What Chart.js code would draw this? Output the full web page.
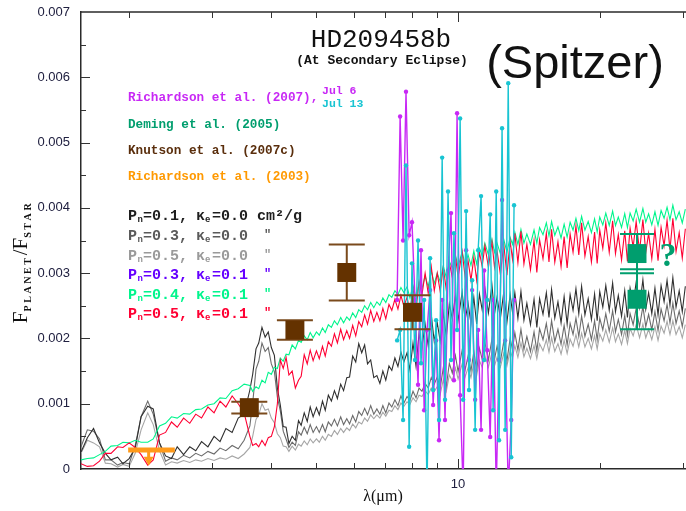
<!DOCTYPE html>
<html>
<head>
<meta charset="utf-8">
<title>HD209458b at secondary eclipse</title>
<script src="https://cdn.jsdelivr.net/npm/chart.js@4.4.1/dist/chart.umd.min.js"></script>
<style>
  html, body { margin: 0; padding: 0; background: #fff; }
  canvas { display: block; }
</style>
</head>
<body>
<canvas id="canvas" width="686" height="511"></canvas>
<script>
// wavelength grid (micron) shared by the model spectra; finer past 3.6 micron where the spectra get noisy
const modelWave = [1.58, 1.63, 1.68, 1.73, 1.78, 1.83, 1.89, 1.94, 2.0, 2.06, 2.12, 2.19, 2.25, 2.32, 2.39, 2.46, 2.53, 2.61, 2.69, 2.77, 2.85, 2.94, 3.03, 3.12, 3.21, 3.31, 3.41, 3.51,
  3.61, 3.66, 3.72, 3.77, 3.83, 3.89, 3.95, 4.01, 4.07, 4.13, 4.19, 4.25, 4.31, 4.37, 4.44, 4.51, 4.58, 4.64, 4.71, 4.78, 4.85, 4.92, 5.0, 5.07, 5.15, 5.22, 5.3, 5.38, 5.46, 5.54, 5.63, 5.71, 5.8, 5.88, 5.97, 6.06, 6.15, 6.24, 6.33, 6.42, 6.52, 6.62, 6.72, 6.82, 6.92, 7.02, 7.13, 7.23, 7.34, 7.45, 7.56, 7.67, 7.79, 7.9,
  8.02, 8.14, 8.26, 8.38, 8.51, 8.64, 8.77, 8.9, 9.03, 9.16, 9.3, 9.44, 9.58, 9.72, 9.87, 10.0, 10.2, 10.35, 10.5, 10.65, 10.8, 10.95, 11.1, 11.25, 11.4, 11.6, 11.8, 11.95, 12.1, 12.3, 12.5, 12.7, 12.9, 13.05, 13.2, 13.4, 13.6, 13.8,
  14.0, 14.25, 14.5, 14.7, 14.9, 15.15, 15.4, 15.6, 15.8, 16.05, 16.3, 16.55, 16.8, 17.05, 17.3, 17.55, 17.8, 18.05, 18.3, 18.6, 18.9, 19.2, 19.5, 19.75, 20.0, 20.3, 20.6, 20.95, 21.3, 21.6, 21.9, 22.25, 22.6, 22.9, 23.2, 23.55, 23.9, 24.3, 24.7, 25.05, 25.4, 25.8, 26.2, 26.6, 27.0, 27.4, 27.8, 28.2, 28.6, 29.05, 29.5, 29.95, 30.4];

// Pn=0.1, ke=0.0
const modelBlack = [0.00026, 0.00048, 0.00062, 0.0004, 0.00024, 0.00014, 0.00018, 0.00008, 0.00016, 0.00032, 0.0008, 0.00096, 0.00092, 0.0004, 0.0002, 0.00016, 0.00034, 0.00022, 0.00034, 0.00028, 0.00042, 0.00034, 0.0005, 0.00042, 0.00062, 0.00056, 0.00078, 0.00084,
  0.00121, 0.00145, 0.00184, 0.00193, 0.00217, 0.00202, 0.0021, 0.00186, 0.00174, 0.00124,
  0.00098, 0.00065, 0.00064, 0.00039, 0.0005, 0.00044, 0.00074, 0.00067, 0.00086, 0.00073,
  0.00095, 0.0008, 0.00094, 0.00083, 0.00104, 0.0009, 0.00113, 0.00104, 0.0012, 0.00108,
  0.0013, 0.0012, 0.0014, 0.00141, 0.00173, 0.00164, 0.00192, 0.00178, 0.0019, 0.00161,
  0.00167, 0.0014, 0.00143, 0.00131, 0.0015, 0.00136, 0.00158, 0.00151, 0.0017, 0.00157,
  0.00179, 0.00164, 0.00178, 0.00152, 0.00193, 0.00157, 0.00207, 0.00186, 0.00222, 0.00189,
  0.00236, 0.00195, 0.00224, 0.00196, 0.00239, 0.00203, 0.00253, 0.0023, 0.00265, 0.00228,
  0.00271, 0.00228, 0.00254, 0.00223, 0.00263, 0.00222, 0.00268, 0.00244, 0.00277, 0.00239,
  0.00282, 0.00238, 0.00263, 0.00231, 0.0027, 0.00225, 0.00267, 0.0024, 0.0027, 0.00231,
  0.00272, 0.00228, 0.00254, 0.00221, 0.0026, 0.00217, 0.00261, 0.00237, 0.0027, 0.00232,
  0.00275, 0.00231, 0.00256, 0.00224, 0.00264, 0.00222, 0.00267, 0.00243, 0.00276, 0.00238,
  0.0028, 0.00236, 0.00261, 0.00229, 0.00268, 0.00227, 0.00272, 0.00248, 0.00281, 0.00243,
  0.00285, 0.00241, 0.00266, 0.00234, 0.00273, 0.00232, 0.00277, 0.00253, 0.00286, 0.00248,
  0.0029, 0.00245, 0.0027, 0.00238, 0.00277, 0.00236, 0.00281, 0.00256, 0.00289, 0.00251,
  0.00293, 0.00248, 0.00273, 0.00241, 0.0028];
// Pn=0.3, ke=0.0
const modelDarkGray = [0.00034, 0.0006, 0.00058, 0.00046, 0.00014, 0.00014, 0.00006, 0.0001, 0.00008, 0.00036, 0.0008, 0.00104, 0.00084, 0.0004, 0.00012, 0.00017, 0.00014, 0.00021, 0.00017, 0.00024, 0.0002, 0.00027, 0.00023, 0.00032, 0.00028, 0.00036, 0.00031, 0.00044,
  0.00066, 0.00101, 0.00153, 0.00165, 0.00193, 0.0018, 0.00186, 0.00161, 0.00149, 0.0011,
  0.00089, 0.00058, 0.00046, 0.00033, 0.00041, 0.00036, 0.00057, 0.00052, 0.00064, 0.00054,
  0.00068, 0.00056, 0.00065, 0.00056, 0.00068, 0.00057, 0.00072, 0.00066, 0.00076, 0.00066,
  0.0008, 0.00068, 0.00077, 0.00069, 0.00082, 0.00072, 0.00088, 0.00082, 0.00093, 0.00083,
  0.00097, 0.00084, 0.00092, 0.00084, 0.00097, 0.00086, 0.00101, 0.00095, 0.00106, 0.00097,
  0.00112, 0.00101, 0.00111, 0.00105, 0.00119, 0.00109, 0.00124, 0.00119, 0.00131, 0.00124,
  0.0014, 0.0013, 0.00141, 0.00124, 0.00155, 0.00127, 0.00162, 0.00147, 0.00174, 0.00149,
  0.00182, 0.00152, 0.00173, 0.0015, 0.0018, 0.00151, 0.00185, 0.00168, 0.00194, 0.00167,
  0.00199, 0.00168, 0.00188, 0.00165, 0.00195, 0.00166, 0.002, 0.00183, 0.00209, 0.00182,
  0.00214, 0.00183, 0.00203, 0.0018, 0.0021, 0.00181, 0.00215, 0.00198, 0.00223, 0.00196,
  0.00227, 0.00195, 0.00214, 0.00191, 0.0022, 0.0019, 0.00223, 0.00206, 0.00231, 0.00203,
  0.00234, 0.00203, 0.00222, 0.00198, 0.00227, 0.00198, 0.00231, 0.00213, 0.00238, 0.00211,
  0.00242, 0.0021, 0.00229, 0.00206, 0.00235, 0.00205, 0.00238, 0.00221, 0.00246, 0.00218,
  0.00249, 0.00218, 0.00237, 0.00213, 0.00241, 0.00212, 0.00245, 0.00227, 0.00252, 0.00224,
  0.00254, 0.00223, 0.00242, 0.00218, 0.00246];
// Pn=0.5, ke=0.0
const modelLightGray = [0.00024, 0.00044, 0.0004, 0.00034, 0.00009, 0.00008, 0.00003, 0.00007, 0.00004, 0.00024, 0.0006, 0.00086, 0.00068, 0.00028, 0.00006, 0.00011, 0.00009, 0.00013, 0.0001, 0.00014, 0.00012, 0.00016, 0.00013, 0.00017, 0.00015, 0.0002, 0.00016, 0.00023,
  0.00033, 0.0005, 0.00076, 0.00083, 0.001, 0.0009, 0.00092, 0.00078, 0.00071, 0.00054,
  0.00048, 0.00035, 0.00034, 0.00027, 0.00035, 0.00029, 0.00038, 0.00035, 0.00043, 0.00037,
  0.00046, 0.0004, 0.00046, 0.00041, 0.0005, 0.00044, 0.00053, 0.0005, 0.00059, 0.00053,
  0.00062, 0.00056, 0.00063, 0.00059, 0.00069, 0.00063, 0.00072, 0.00069, 0.00078, 0.00073,
  0.00083, 0.00077, 0.00083, 0.00078, 0.00087, 0.00081, 0.0009, 0.00088, 0.00097, 0.00091,
  0.00101, 0.00096, 0.00103, 0.00099, 0.00109, 0.00103, 0.00113, 0.00111, 0.0012, 0.00114,
  0.00124, 0.00119, 0.00126, 0.00114, 0.00137, 0.00119, 0.00144, 0.00135, 0.00155, 0.00138,
  0.00161, 0.00141, 0.00155, 0.0014, 0.00162, 0.00143, 0.00166, 0.00156, 0.00174, 0.00156,
  0.00178, 0.00158, 0.00171, 0.00156, 0.00177, 0.00158, 0.00181, 0.00171, 0.00189, 0.00171,
  0.00193, 0.00172, 0.00185, 0.00169, 0.00189, 0.00169, 0.00192, 0.00181, 0.00198, 0.00179,
  0.00201, 0.0018, 0.00192, 0.00176, 0.00197, 0.00177, 0.00199, 0.00188, 0.00206, 0.00187,
  0.00208, 0.00187, 0.002, 0.00184, 0.00204, 0.00184, 0.00207, 0.00196, 0.00213, 0.00194,
  0.00216, 0.00195, 0.00207, 0.00191, 0.00212, 0.00192, 0.00215, 0.00204, 0.00221, 0.00201,
  0.00222, 0.00201, 0.00214, 0.00198, 0.00218, 0.00197, 0.00219, 0.00208, 0.00226, 0.00206,
  0.00227, 0.00206, 0.00218, 0.00201, 0.00221];
// Pn=0.4, ke=0.1
const modelGreen = [0.00014, 0.00016, 0.00017, 0.00022, 0.00027, 0.00035, 0.00036, 0.00041, 0.0004, 0.00044, 0.00041, 0.00041, 0.00046, 0.00066, 0.0007, 0.0008, 0.00078, 0.00085, 0.00084, 0.00091, 0.00092, 0.00098, 0.001, 0.00109, 0.00108, 0.0012, 0.00123, 0.0013,
  0.00128, 0.00119, 0.00126, 0.00123, 0.00136, 0.00132, 0.00148, 0.00145, 0.00156, 0.00154,
  0.0017, 0.00165, 0.00176, 0.00175, 0.0019, 0.00184, 0.00197, 0.00194, 0.00204, 0.00198,
  0.00209, 0.00201, 0.0021, 0.00205, 0.00216, 0.00209, 0.00221, 0.00217, 0.00227, 0.00221,
  0.00232, 0.00224, 0.00233, 0.00228, 0.00239, 0.00232, 0.00244, 0.0024, 0.0025, 0.00244,
  0.00255, 0.00247, 0.00256, 0.00251, 0.00262, 0.00255, 0.00267, 0.00263, 0.00273, 0.00267,
  0.00278, 0.0027, 0.00279, 0.00262, 0.00281, 0.00262, 0.00286, 0.00276, 0.00296, 0.00279,
  0.00303, 0.00284, 0.003, 0.00287, 0.00311, 0.00293, 0.00318, 0.00308, 0.00328, 0.0031,
  0.00333, 0.00313, 0.00328, 0.00312, 0.00334, 0.00314, 0.00338, 0.00327, 0.00346, 0.00328,
  0.00352, 0.00332, 0.00346, 0.0033, 0.00352, 0.00332, 0.00355, 0.00344, 0.00363, 0.00344,
  0.00367, 0.00346, 0.0036, 0.00344, 0.00366, 0.00346, 0.0037, 0.00359, 0.00377, 0.00357,
  0.00379, 0.00358, 0.00371, 0.00354, 0.00375, 0.00355, 0.00378, 0.00366, 0.00384, 0.00365,
  0.00387, 0.00366, 0.00379, 0.00362, 0.00383, 0.00363, 0.00386, 0.00374, 0.00392, 0.00373,
  0.00395, 0.00373, 0.00386, 0.0037, 0.00391, 0.0037, 0.00392, 0.0038, 0.00398, 0.00378,
  0.00399, 0.00378, 0.00391, 0.00374, 0.00394, 0.00373, 0.00396, 0.00384, 0.00401, 0.00382,
  0.00404, 0.00382, 0.00394, 0.00377, 0.00398];
// Pn=0.5, ke=0.1
const modelRed = [0.00008, 0.00004, 0.00005, 0.00012, 0.00024, 0.00024, 0.00034, 0.00033, 0.0004, 0.00033, 0.00022, 0.00006, 0.00014, 0.00052, 0.00056, 0.00072, 0.00064, 0.00078, 0.0007, 0.00084, 0.00078, 0.00095, 0.00086, 0.00104, 0.00095, 0.00112, 0.001, 0.00086,
  0.0005, 0.00036, 0.00039, 0.00034, 0.00044, 0.00036, 0.00048, 0.0005, 0.00065, 0.001,
  0.00167, 0.00154, 0.00171, 0.00144, 0.0015, 0.00124, 0.00136, 0.00142, 0.00175, 0.00161,
  0.00182, 0.00166, 0.00181, 0.00169, 0.00188, 0.00173, 0.00195, 0.00188, 0.00207, 0.00193,
  0.00214, 0.00198, 0.00212, 0.002, 0.0022, 0.00204, 0.00226, 0.00218, 0.00236, 0.00222,
  0.00243, 0.00226, 0.0024, 0.00227, 0.00246, 0.0023, 0.00252, 0.00243, 0.0026, 0.00245,
  0.00266, 0.00249, 0.00263, 0.0024, 0.00277, 0.00243, 0.00287, 0.00267, 0.003, 0.00269,
  0.0031, 0.00273, 0.003, 0.00272, 0.00309, 0.00274, 0.00316, 0.00294, 0.00326, 0.00294,
  0.00333, 0.00294, 0.00319, 0.00289, 0.00324, 0.00289, 0.00332, 0.0031, 0.00342, 0.00309,
  0.00348, 0.00309, 0.00334, 0.00298, 0.00345, 0.00297, 0.00349, 0.00321, 0.00361, 0.00316,
  0.00364, 0.00314, 0.00344, 0.00305, 0.0035, 0.00301, 0.00351, 0.00322, 0.00361, 0.00317,
  0.00367, 0.00317, 0.00348, 0.0031, 0.00356, 0.00308, 0.0036, 0.00332, 0.00372, 0.00328,
  0.00377, 0.00326, 0.00356, 0.00317, 0.00363, 0.00315, 0.00366, 0.00338, 0.00377, 0.00332,
  0.0038, 0.0033, 0.00359, 0.0032, 0.00365, 0.00318, 0.00369, 0.0034, 0.00379, 0.00334,
  0.00382, 0.00332, 0.00361, 0.00322, 0.00367, 0.00319, 0.0037, 0.00342, 0.00381, 0.00336,
  0.00384, 0.00333, 0.00362, 0.00323, 0.00368];

// Richardson et al. (2007) IRS spectrum, two visits
const richWave = [7.42, 7.53, 7.64, 7.75, 7.87, 7.98, 8.1, 8.22, 8.34, 8.47, 8.59, 8.72, 8.85, 8.98, 9.11, 9.25, 9.38, 9.52, 9.66, 9.8, 9.95, 10.1, 10.25, 10.4, 10.55, 10.71, 10.87, 11.03, 11.19, 11.36, 11.53, 11.7, 11.87, 12.05, 12.22, 12.4, 12.59, 12.78, 12.97, 13.15];
const jul6 = [0.00259, 0.0054, 0.0035, 0.00578, 0.00358, 0.00378, 0.00259, 0.00129, 0.00335, 0.0009, 0.00213, 0.00274, 0.00098, 0.00197, 0.00044, 0.00259, 0.00075, 0.00304, 0.00392, 0.00136, 0.00545, 0.00113, -0.00032, 0.00335, 0.00167, 0.00274, 0.00106, 0.00213, 0.0006, 0.00304, 0.00182, 0.00049, 0.00259, -0.00032, 0.00167, 0.00412, 0.00197, -0.00032, 0.00075, 0.00259];
const jul13 = [0.00197, 0.00213, 0.00075, 0.00465, 0.00034, 0.00315, 0.00167, 0.0035, 0.00162, 0.00259, -0.00032, 0.00323, 0.00121, 0.00228, 0.00075, 0.00477, 0.00106, 0.00425, 0.00167, 0.00361, 0.00213, 0.00537, 0.00106, 0.00395, 0.00121, 0.00289, 0.0006, 0.00335, 0.00418, 0.00167, 0.00259, 0.0039, 0.0009, 0.00425, 0.00044, 0.00522, 0.0006, 0.00591, 0.00018, 0.00404];

// Knutson et al. (2007c) IRAC points
const knutsonWave = [3.6, 4.5, 5.8, 8.0];
const knutsonFlux = [0.00094, 0.00213, 0.00301, 0.0024];
const knutsonErr = [0.00009, 0.00015, 0.00043, 0.00026];

// Deming et al. (2005) MIPS 24 micron (and the questioned higher value)
const demingWave = [24, 24];
const demingFlux = [0.0026, 0.0033];
const demingErr = [0.00046, 0.0003];

// Richardson et al. (2003) upper limit
const rich03Band = [1.99, 2.5];
const rich03Center = 2.2;
const rich03Limit = 0.00029;
const rich03ArrowTip = 0.00005;

// axes
const xTickValues = [2, 3, 4, 5, 6, 7, 8, 9, 10, 20, 30];
const yTickValues = [0.0005, 0.001, 0.0015, 0.002, 0.0025, 0.003, 0.0035, 0.004, 0.0045, 0.005, 0.0055, 0.006, 0.0065];

// legend labels for the models
const modelPn = ['0.1', '0.3', '0.5', '0.3', '0.4', '0.5'];
const modelKe = ['0.0', '0.0', '0.0', '0.1', '0.1', '0.1'];
const modelColors = ['#1e1e1e', '#5a5a5a', '#9a9a9a', '#6600ff', '#00f58c', '#ff0033'];

const mono = "'Liberation Mono', 'DejaVu Sans Mono', monospace";
const sans = "'Liberation Sans', Arial, sans-serif";
const serif = "'Liberation Serif', 'DejaVu Serif', serif";
const magenta = '#c828f5';
const cyan = '#18c4d2';
const brown = '#643200';
const demingGreen = '#009e6e';
const orange = '#ff9a1a';

function pts(xs, ys) {
  return xs.map((x, i) => ({ x: x, y: ys[i] }));
}

function modelLine(values, color, order) {
  return {
    data: pts(modelWave, values),
    showLine: true,
    borderColor: color,
    borderWidth: 1.1,
    pointRadius: 0,
    order: order,
  };
}

function drawErrorBars(ctx, x, y, wave, flux, err, half, color) {
  ctx.save();
  ctx.strokeStyle = color;
  ctx.lineWidth = 2;
  wave.forEach((w, i) => {
    const px = x.getPixelForValue(w);
    const top = y.getPixelForValue(flux[i] + err[i]);
    const bot = y.getPixelForValue(flux[i] - err[i]);
    ctx.beginPath();
    ctx.moveTo(px, top); ctx.lineTo(px, bot);
    ctx.moveTo(px - half, top); ctx.lineTo(px + half, top);
    ctx.moveTo(px - half, bot); ctx.lineTo(px + half, bot);
    ctx.stroke();
  });
  ctx.restore();
}

// error bars sit just under their own squares but over the models
const errorBarPlugin = {
  id: 'errorBars',
  beforeDatasetDraw(chart, args) {
    const { ctx, scales: { x, y } } = chart;
    if (args.index === 0) drawErrorBars(ctx, x, y, knutsonWave, knutsonFlux, knutsonErr, 18, '#7a4a1c');
    if (args.index === 1) drawErrorBars(ctx, x, y, demingWave, demingFlux, demingErr, 17, demingGreen);
  },
  afterDatasetsDraw(chart) {
    const { ctx, scales: { x, y } } = chart;
    const px = x.getPixelForValue(rich03Center);
    const top = y.getPixelForValue(rich03Limit);
    const tip = y.getPixelForValue(rich03ArrowTip);
    ctx.save();
    ctx.strokeStyle = orange;
    ctx.fillStyle = orange;
    ctx.lineWidth = 3;
    ctx.beginPath();
    ctx.moveTo(px, top); ctx.lineTo(px, tip - 6);
    ctx.stroke();
    ctx.beginPath();
    ctx.moveTo(px - 5, tip - 9); ctx.lineTo(px + 5, tip - 9); ctx.lineTo(px, tip);
    ctx.closePath();
    ctx.fill();
    ctx.restore();
  },
};

// top border and inward tick marks
const framePlugin = {
  id: 'frame',
  afterDraw(chart) {
    const { ctx, chartArea: a, scales: { x, y } } = chart;
    ctx.save();
    ctx.strokeStyle = '#2a2a2a';
    ctx.lineWidth = 1.5;
    ctx.beginPath();
    ctx.moveTo(a.left, a.top); ctx.lineTo(a.right, a.top);
    ctx.stroke();
    ctx.lineWidth = 1;
    ctx.strokeStyle = '#333';
    ctx.beginPath();
    xTickValues.forEach(v => {
      const px = Math.round(x.getPixelForValue(v)) + 0.5;
      const len = v === 10 ? 10 : 6;
      ctx.moveTo(px, a.bottom); ctx.lineTo(px, a.bottom - len);
      ctx.moveTo(px, a.top); ctx.lineTo(px, a.top + len);
    });
    yTickValues.forEach(v => {
      const py = Math.round(y.getPixelForValue(v)) + 0.5;
      const major = Math.round(v * 10000) % 10 === 0;
      ctx.moveTo(a.left, py); ctx.lineTo(a.left + (major ? 9 : 5), py);
    });
    ctx.stroke();
    ctx.restore();
  },
};

function drawYTitle(ctx) {
  ctx.save();
  ctx.translate(20, 262);
  ctx.rotate(-Math.PI / 2);
  ctx.fillStyle = '#111';
  ctx.textBaseline = 'alphabetic';
  ctx.textAlign = 'left';
  const big = '21px ' + serif;
  const small = 'bold 10px ' + serif;
  const gap = 2.6;
  const pieces = [['F', big], ['PLANET', small], ['/', big], ['F', big], ['STAR', small]];
  let total = 0;
  pieces.forEach(([t, f]) => {
    ctx.font = f;
    if (f === small) {
      for (const ch of t) total += ctx.measureText(ch).width + gap;
    } else {
      total += ctx.measureText(t).width;
    }
  });
  let cx = -total / 2;
  pieces.forEach(([t, f]) => {
    ctx.font = f;
    if (f === small) {
      for (const ch of t) {
        ctx.fillText(ch, cx, 11);
        cx += ctx.measureText(ch).width + gap;
      }
    } else {
      ctx.fillText(t, cx, 7);
      cx += ctx.measureText(t).width;
    }
  });
  ctx.restore();
}

const textPlugin = {
  id: 'texts',
  afterDraw(chart) {
    const ctx = chart.ctx;
    ctx.save();
    ctx.fillStyle = '#111';
    ctx.textAlign = 'center';
    ctx.textBaseline = 'alphabetic';
    ctx.font = '26px ' + mono;
    ctx.fillText('HD209458b', 381, 47);
    ctx.font = 'bold 13px ' + mono;
    ctx.fillText('(At Secondary Eclipse)', 382, 64);
    ctx.font = '47px ' + sans;
    ctx.fillText('(Spitzer)', 575, 78);

    // axis title
    ctx.font = '16px ' + serif;
    ctx.textBaseline = 'middle';
    ctx.fillText('\u03bb(\u03bcm)', 383, 497);
    drawYTitle(ctx);

    // observation legend
    ctx.textAlign = 'left';
    ctx.textBaseline = 'middle';
    ctx.font = 'bold 12.7px ' + mono;
    ctx.fillStyle = magenta;
    ctx.fillText('Richardson et al. (2007),', 128, 98);
    ctx.fillStyle = demingGreen;
    ctx.fillText('Deming et al. (2005)', 128, 125);
    ctx.fillStyle = '#5a2e0c';
    ctx.fillText('Knutson et al. (2007c)', 128, 151);
    ctx.fillStyle = '#ff9900';
    ctx.fillText('Richardson et al. (2003)', 128, 177);
    ctx.font = 'bold 11.5px ' + mono;
    ctx.fillStyle = magenta;
    ctx.fillText('Jul 6', 322, 91);
    ctx.fillStyle = cyan;
    ctx.fillText('Jul 13', 322, 104);

    // model legend
    const rowY = [216, 236, 256, 275, 295, 314];
    const big = 'bold 15px ' + mono;
    const sub = 'bold 9px ' + mono;
    modelPn.forEach((pn, i) => {
      const yy = rowY[i];
      ctx.fillStyle = modelColors[i];
      ctx.font = big;
      ctx.fillText('P', 128, yy);
      ctx.fillText('=' + pn + ',', 143, yy);
      ctx.fillText('\u03ba', 196, yy);
      ctx.fillText('=' + modelKe[i], 212, yy);
      if (i === 0) {
        ctx.fillText('cm\u00b2/g', 257, yy);
      } else {
        ctx.font = 'bold 12px ' + mono;
        ctx.fillText('"', 264, yy - 1);
      }
      ctx.font = sub;
      ctx.fillText('n', 137.5, yy + 4);
      ctx.fillText('e', 205, yy + 4);
    });

    // question mark next to the higher 24 micron value
    ctx.fillStyle = demingGreen;
    ctx.font = 'bold 34px ' + serif;
    ctx.textAlign = 'center';
    ctx.textBaseline = 'alphabetic';
    ctx.fillText('?', 668, 266);
    ctx.restore();
  },
};

const axisText = '#202040';

new Chart(document.getElementById('canvas').getContext('2d'), {
  type: 'scatter',
  data: {
    datasets: [
      {
        data: pts(knutsonWave, knutsonFlux),
        pointStyle: 'rect', pointRadius: 13.4,
        pointBackgroundColor: brown, pointBorderColor: brown, pointBorderWidth: 0,
        order: 0,
      },
      {
        data: pts(demingWave, demingFlux),
        pointStyle: 'rect', pointRadius: 13.4,
        pointBackgroundColor: demingGreen, pointBorderColor: demingGreen, pointBorderWidth: 0,
        order: 1,
      },
      {
        data: pts(rich03Band, [rich03Limit, rich03Limit]),
        showLine: true, borderColor: orange, borderWidth: 5, borderCapStyle: 'butt', pointRadius: 0,
        order: 2,
      },
      {
        data: pts(richWave, jul13),
        showLine: true, borderColor: cyan, borderWidth: 1.4,
        pointRadius: 2.2, pointBackgroundColor: cyan, pointBorderWidth: 0,
        order: 3,
      },
      {
        data: pts(richWave, jul6),
        showLine: true, borderColor: magenta, borderWidth: 1.4,
        pointRadius: 2.2, pointBackgroundColor: magenta, pointBorderWidth: 0,
        order: 4,
      },
      modelLine(modelRed, '#ff0033', 5),
      modelLine(modelGreen, '#00f58c', 6),
      modelLine(modelBlack, '#303030', 7),
      modelLine(modelDarkGray, '#6c6c6c', 8),
      modelLine(modelLightGray, '#a6a6a6', 9),
    ],
  },
  options: {
    responsive: false,
    animation: false,
    events: [],
    layout: { autoPadding: false, padding: { top: 12, right: 0, bottom: 0, left: 0 } },
    plugins: {
      legend: { display: false },
      tooltip: { enabled: false },
      title: { display: false },
    },
    scales: {
      x: {
        type: 'logarithmic',
        min: 1.58,
        max: 30.5,
        afterFit(scale) {
          scale.height = 42;
          scale.paddingLeft = 0; scale.paddingRight = 0;
          scale.paddingTop = 0; scale.paddingBottom = 0;
        },
        afterBuildTicks(scale) { scale.ticks = xTickValues.map(v => ({ value: v })); },
        grid: { display: false, drawTicks: false },
        border: { display: true, color: '#2a2a2a', width: 1.5 },
        ticks: {
          autoSkip: false, maxRotation: 0, minRotation: 0, padding: 8,
          color: axisText, font: { family: sans, size: 13 },
          callback: v => (v === 10 ? '10' : ''),
        },
      },
      y: {
        min: 0,
        max: 0.007,
        afterFit(scale) {
          scale.width = 81;
          scale.paddingLeft = 0; scale.paddingRight = 0;
          scale.paddingTop = 0; scale.paddingBottom = 0;
        },
        grid: { display: false, drawTicks: false },
        border: { display: true, color: '#2a2a2a', width: 1.5 },
        ticks: {
          stepSize: 0.001, padding: 11,
          color: axisText, font: { family: sans, size: 13 },
          callback: v => (v === 0 ? '0' : v.toFixed(3)),
        },
      },
    },
  },
  plugins: [errorBarPlugin, framePlugin, textPlugin],
});
</script>
</body>
</html>
